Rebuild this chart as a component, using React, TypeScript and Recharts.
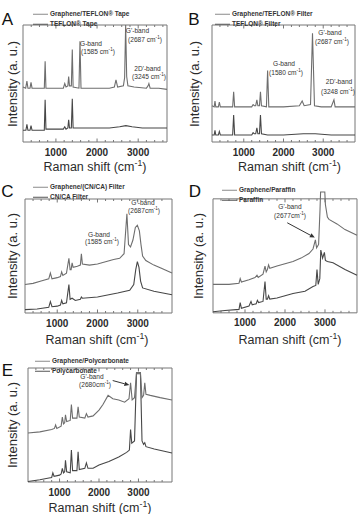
import React from "react";
import { LineChart, Line, XAxis, YAxis, ReferenceArea, ReferenceLine } from "recharts";

const FONT = "'Liberation Sans', Arial, Helvetica, sans-serif";
const UPPER = "#6e6e6e";
const LOWER = "#474747";
const FRAME = "#777";
const INK = "#2b2b2b";

// [Raman shift (cm-1), intensity as % of the frame height]
const tapeGraphene = [[200,47],[265,46],[295,52],[320,46],[370,46],[395,51],[420,46],[600,46],[718,46],[738,69],[758,46],[1180,46],[1215,50],[1245,47],[1290,48],[1310,56],[1330,48],[1375,48],[1398,79],[1418,47],[1560,46],[1585,86],[1610,46],[1900,46],[2300,46],[2420,47],[2460,53],[2500,47],[2640,48],[2670,55],[2695,100],[2720,56],[2750,48],[2900,47],[3200,46],[3240,48],[3260,50],[3290,46],[3500,46],[3700,45]];
const tapeBlank = [[200,10],[270,10],[295,15],[320,10],[370,10],[395,14],[420,10],[600,10],[718,10],[738,36],[758,11],[1180,11],[1215,13],[1245,11],[1290,12],[1310,19],[1330,12],[1375,12],[1398,37],[1418,12],[1500,12],[1700,12],[2000,12],[2300,12],[2550,13],[2700,14],[2850,13],[3100,12],[3400,12],[3700,12]];

const filterGraphene = [[200,31],[255,30],[275,35],[295,30],[360,30],[385,34],[410,30],[600,30],[720,30],[745,43],[770,30],[1200,30],[1235,32],[1265,31],[1300,31],[1330,36],[1355,31],[1395,31],[1420,43],[1445,31],[1570,30],[1600,61],[1630,30],[2000,30],[2400,31],[2470,35],[2520,31],[2680,32],[2730,93],[2780,31],[2950,30],[3200,30],[3270,36],[3300,30],[3550,30],[3800,30]];
const filterBlank = [[200,6],[255,6],[275,10],[295,6],[360,6],[385,9],[410,6],[600,6],[720,6],[745,23],[770,6],[1200,6],[1235,8],[1265,7],[1300,7],[1330,12],[1355,7],[1395,7],[1420,23],[1445,7],[1600,6],[2000,6],[2500,7],[2800,7],[3200,6],[3800,6]];

const cncaGraphene = [[200,25],[400,26],[600,28],[790,30],[830,35],[870,30],[1000,31],[1080,32],[1110,36],[1140,33],[1230,35],[1290,48],[1320,38],[1345,38],[1370,44],[1395,40],[1500,41],[1575,42],[1600,52],[1625,43],[1800,42],[2000,43],[2200,45],[2400,47],[2550,48],[2660,52],[2730,87],[2770,60],[2820,58],[2880,64],[2940,75],[2990,77],[3040,72],[3080,60],[3120,50],[3200,46],[3400,42],[3600,39],[3850,35]];
const cncaBlank = [[200,3],[500,3.5],[790,5],[830,10],[870,5.5],[1000,6],[1080,7],[1110,11],[1140,8],[1230,9],[1290,25],[1320,12],[1370,13],[1450,11],[1575,12],[1600,14],[1625,13],[2000,14],[2500,17.5],[2800,20],[2900,25],[2950,38],[2990,45],[3030,40],[3070,28],[3120,22],[3400,19],[3850,16]];

const paraffinGraphene = [[200,25],[600,25],[850,26],[880,30],[910,27],[1100,29],[1250,31],[1300,33],[1330,31],[1450,34],[1500,41],[1530,36],[1560,38],[1590,42],[1620,39],[1800,41],[2000,43],[2200,45],[2400,48],[2600,52],[2700,56],[2760,64],[2790,57],[2840,60],[2875,90],[2890,106],[2995,106],[3010,95],[3060,84],[3100,82],[3300,78],[3500,73],[3800,68]];
const paraffinBlank = [[200,1],[500,2],[850,3],[880,9],[910,4],[1100,6],[1150,10],[1180,7],[1280,8],[1310,11],[1340,9],[1450,10],[1500,27.5],[1530,12],[1560,12],[1590,15],[1620,12],[1800,13],[2000,15],[2200,17],[2500,19],[2700,23],[2770,24],[2800,38],[2830,25],[2870,30],[2895,55],[2940,48],[2985,53],[3010,46],[3060,45],[3200,44],[3500,38],[3800,33]];

const pcGraphene = [[200,43],[500,44],[800,46],[870,47],[900,50],[930,47],[1040,49],[1070,57],[1100,51],[1130,52],[1150,59],[1180,53],[1270,54],[1300,68],[1330,56],[1440,56],[1470,66],[1500,57],[1640,56],[1680,60],[1720,57],[1850,58],[2000,63],[2100,68],[2230,76],[2350,73],[2500,72],[2650,70],[2760,73],[2800,87],[2840,72],[2900,74],[2950,96],[3050,96],[3090,74],[3130,76],[3160,87],[3190,77],[3300,76],[3550,74],[3850,72]];
const pcBlank = [[200,0.5],[500,2],[730,3.5],[800,4],[830,8],[860,5],[1000,6],[1040,7],[1070,12],[1100,8],[1130,9],[1150,19],[1180,9],[1270,8],[1300,28],[1330,10],[1440,10],[1470,26.6],[1500,11],[1640,12],[1680,16.7],[1720,12],[1850,12],[2000,15],[2250,18],[2500,22],[2700,26],[2770,28],[2800,46],[2830,34],[2900,36],[2950,95],[3050,95],[3090,36],[3130,33],[3160,34.5],[3190,31],[3400,29],[3850,25.5]];

const majorTicks = [1000, 2000, 3000];
const minorTicks = [400, 600, 800, 1200, 1400, 1600, 1800, 2200, 2400, 2600, 2800, 3200, 3400, 3600];

const toPts = (a: number[][]) => a.map(([x, y]) => ({ x, y }));

const TickLabel = (p: any) => (
  <text x={p.x} y={p.y + 13.5} textAnchor="middle" fontSize={10} fontWeight="bold" fill={INK} fontFamily={FONT}>
    {p.payload.value}
  </text>
);

const arrowShape = (p: any) => {
  const { x1, y1, x2, y2 } = p;
  const a = Math.atan2(y2 - y1, x2 - x1);
  const L = 5, W = 2.2;
  const bx = x2 - L * Math.cos(a), by = y2 - L * Math.sin(a);
  const pts = `${x2},${y2} ${bx - W * Math.sin(a)},${by + W * Math.cos(a)} ${bx + W * Math.sin(a)},${by - W * Math.cos(a)}`;
  return (
    <g>
      <line x1={x1} y1={y1} x2={bx} y2={by} stroke="#333" strokeWidth={1} />
      <polygon points={pts} fill="#333" />
    </g>
  );
};

type Box = { x: number; y: number; w: number; h: number };

function Spectrum({ box, domain, yMax, upper, lower, arrow }: {
  box: Box; domain: [number, number]; yMax: number; upper: number[][]; lower: number[][];
  arrow?: [[number, number], [number, number]];
}) {
  const plotH = (box.h * yMax) / 100;
  const axisH = 18;
  const minorLen = 200 / box.h;
  const majorLen = 350 / box.h;
  const ticks = [...minorTicks, ...majorTicks].filter((t) => t > domain[0] && t < domain[1]);
  return (
    <div style={{ position: "absolute", left: box.x - 2, top: box.y + box.h - plotH - 2 }}>
      <LineChart width={box.w + 4} height={plotH + 2 + axisH} margin={{ top: 2, right: 2, bottom: 0, left: 2 }}>
        <XAxis dataKey="x" type="number" domain={domain} ticks={majorTicks} tickSize={0} tickMargin={0}
          axisLine={false} tickLine={false} height={axisH} tick={<TickLabel />} />
        <YAxis hide type="number" domain={[0, yMax]} />
        <ReferenceArea x1={domain[0]} x2={domain[1]} y1={0} y2={100} fill="none" stroke={FRAME} strokeWidth={1} />
        {ticks.map((t) => {
          const len = majorTicks.includes(t) ? majorLen : minorLen;
          return (
            <React.Fragment key={t}>
              <ReferenceLine segment={[{ x: t, y: 0 }, { x: t, y: len }]} stroke={FRAME} />
              <ReferenceLine segment={[{ x: t, y: 100 }, { x: t, y: 100 - len }]} stroke={FRAME} />
            </React.Fragment>
          );
        })}
        <Line data={toPts(lower)} dataKey="y" type="linear" dot={false} stroke={LOWER} strokeWidth={1.1} isAnimationActive={false} />
        <Line data={toPts(upper)} dataKey="y" type="linear" dot={false} stroke={UPPER} strokeWidth={1.1} isAnimationActive={false} />
        {arrow && (
          <ReferenceLine segment={[{ x: arrow[0][0], y: arrow[0][1] }, { x: arrow[1][0], y: arrow[1][1] }]} shape={arrowShape} />
        )}
      </LineChart>
    </div>
  );
}

const abs = (x: number, y: number, extra: React.CSSProperties = {}): React.CSSProperties => ({
  position: "absolute", left: x, top: y, whiteSpace: "nowrap", lineHeight: 1, fontFamily: FONT, ...extra,
});

const Sup = () => <span style={{ fontSize: "0.7em", verticalAlign: "0.5em", lineHeight: 0 }}>-1</span>;

function Note({ x, y, children }: { x: number; y: number; children: React.ReactNode }) {
  return <div style={abs(x, y, { transform: "translate(-50%,-50%)", fontSize: 6.6, color: "#333" })}>{children}</div>;
}

function Legend({ x, y, items }: { x: number; y: number; items: [string, string][] }) {
  return (
    <>
      {items.map(([label, color], i) => (
        <div key={label} style={abs(x, y + i * 10, { transform: "translateY(-50%)", display: "flex", alignItems: "center" })}>
          <div style={{ width: 15, height: 0, borderTop: `1px solid ${color}`, marginRight: 2 }} />
          <span style={{ fontSize: 6.5, fontWeight: "bold", color: "#333" }}>{label}</span>
        </div>
      ))}
    </>
  );
}

function Frame({ letter, lx, ly, yl, xl }: { letter: string; lx: number; ly: number; yl: [number, number]; xl: [number, number] }) {
  return (
    <>
      <div style={abs(lx, ly, { transform: "translate(-50%,-50%)", fontSize: 17, color: "#111" })}>{letter}</div>
      <div style={abs(yl[0], yl[1], { transform: "translate(-50%,-50%) rotate(-90deg)", fontSize: 13, color: INK })}>
        Intensity (a. u.)
      </div>
      <div style={abs(xl[0], xl[1], { transform: "translate(-50%,-50%)", fontSize: 12.5, color: INK })}>
        Raman shift (cm<Sup />)
      </div>
    </>
  );
}

export default function App() {
  return (
    <div style={{ position: "fixed", left: 0, top: 0, width: 359, height: 514, background: "#fff", overflow: "hidden" }}>
      {/* A */}
      <Spectrum box={{ x: 23, y: 25, w: 144, h: 117 }} domain={[200, 3700]} yMax={100} upper={tapeGraphene} lower={tapeBlank} />
      <Frame letter="A" lx={7.5} ly={19} yl={[12, 84]} xl={[95, 167]} />
      <Legend x={33} y={14} items={[["Graphene/TEFLON® Tape", "#8a8a8a"], ["TEFLON® Tape", "#555"]]} />
      <Note x={91} y={43.5}>G-band</Note>
      <Note x={98} y={51.5}>(1585 cm<Sup />)</Note>
      <Note x={137.5} y={31}>G'-band</Note>
      <Note x={145} y={39.5}>(2687 cm<Sup />)</Note>
      <Note x={147.5} y={68.5}>2D'-band</Note>
      <Note x={149} y={76.5}>(3245 cm<Sup />)</Note>

      {/* B */}
      <Spectrum box={{ x: 212, y: 25, w: 143, h: 117 }} domain={[200, 3800]} yMax={100} upper={filterGraphene} lower={filterBlank} />
      <Frame letter="B" lx={194} ly={19} yl={[194, 84]} xl={[289.5, 167]} />
      <Legend x={215} y={14} items={[["Graphene/TEFLON® Filter", "#8a8a8a"], ["TEFLON® Filter", "#555"]]} />
      <Note x={284} y={63.5}>G-band</Note>
      <Note x={286} y={72.5}>(1580 cm<Sup />)</Note>
      <Note x={330} y={33}>G'-band</Note>
      <Note x={332} y={42}>(2687 cm<Sup />)</Note>
      <Note x={339} y={82}>2D'-band</Note>
      <Note x={338} y={91.5}>(3248 cm<Sup />)</Note>

      {/* C */}
      <Spectrum box={{ x: 25, y: 199, w: 147, h: 114 }} domain={[200, 3850]} yMax={100} upper={cncaGraphene} lower={cncaBlank} />
      <Frame letter="C" lx={7.5} ly={191} yl={[12, 256]} xl={[97, 340]} />
      <Legend x={33} y={187} items={[["Graphene/(CN/CA) Filter", "#8a8a8a"], ["CN/CA Filter", "#555"]]} />
      <Note x={143} y={203}>G'-band</Note>
      <Note x={144} y={210.5}>(2687cm<Sup />)</Note>
      <Note x={99} y={235}>G-band</Note>
      <Note x={102} y={242}>(1585 cm<Sup />)</Note>

      {/* D */}
      <Spectrum box={{ x: 213, y: 199, w: 144, h: 114 }} domain={[200, 3800]} yMax={106} upper={paraffinGraphene} lower={paraffinBlank}
        arrow={[[2056, 79], [2745, 66]]} />
      <Frame letter="D" lx={195} ly={191} yl={[198, 256]} xl={[290, 340]} />
      <Legend x={222} y={190} items={[["Graphene/Paraffin", "#8a8a8a"], ["Paraffin", "#555"]]} />
      <Note x={290} y={207}>G'-band</Note>
      <Note x={290} y={216}>(2677cm<Sup />)</Note>

      {/* E */}
      <Spectrum box={{ x: 28, y: 368, w: 144, h: 114 }} domain={[200, 3850]} yMax={100} upper={pcGraphene} lower={pcBlank}
        arrow={[[2347, 89], [2770, 85]]} />
      <Frame letter="E" lx={7.5} ly={370} yl={[12, 425]} xl={[100, 508]} />
      <Legend x={35} y={361} items={[["Graphene/Polycarbonate", "#8a8a8a"], ["Polycarbonate", "#555"]]} />
      <Note x={92} y={377}>G'-band</Note>
      <Note x={95} y={385}>(2680cm<Sup />)</Note>
    </div>
  );
}
